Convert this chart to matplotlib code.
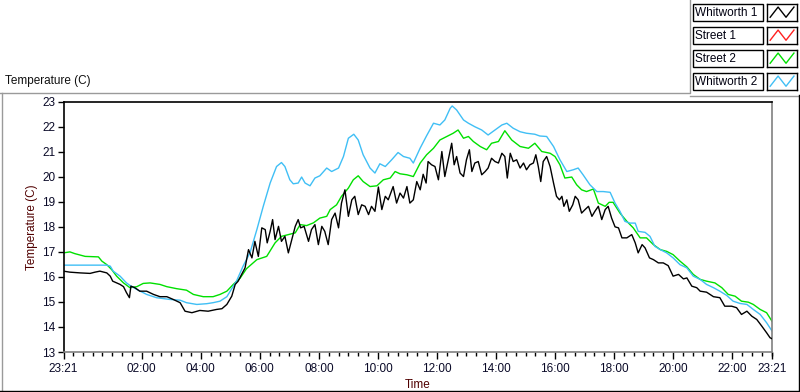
import matplotlib
matplotlib.use("Agg")
import matplotlib.pyplot as plt
from matplotlib.patches import Rectangle
from matplotlib.lines import Line2D

# ---------------- data (minutes since 23:21, temperature in C) ----------------
w1_t = [0, 13, 34, 54, 64, 74, 88, 95, 100, 108, 115, 122, 128, 134, 137, 145, 155, 169, 183, 196,
        210, 223, 237, 247, 261, 277, 294, 311, 322, 332, 342, 349, 355, 362, 369, 376, 383, 389, 396,
        403, 410, 414, 420, 425, 430, 437, 443, 450, 457, 464, 471, 477, 482, 489, 498, 504, 511, 518,
        525, 531, 538, 545, 552, 559, 565, 572, 579, 586, 592, 599, 606, 613, 620, 626, 633, 640, 647,
        654, 660, 670, 677, 684, 691, 698, 704, 711, 718, 725, 731, 737, 741, 748, 755, 762, 769, 775,
        782, 789, 794, 799, 806, 813, 819, 825, 830, 836, 843, 850, 857, 863, 870, 877, 884, 891, 897,
        902, 908, 914, 921, 928, 935, 941, 948, 955, 960, 965, 970, 975, 982, 989, 996, 1002, 1008,
        1013, 1017, 1023, 1028, 1035, 1040, 1046, 1053, 1060, 1067, 1074, 1080, 1087, 1094, 1101, 1107,
        1114, 1121, 1128, 1135, 1145, 1155, 1162, 1168, 1176, 1182, 1191, 1199, 1209, 1219, 1229, 1239,
        1250, 1260, 1267, 1277, 1287, 1294, 1307, 1321, 1334, 1344, 1358, 1368, 1378, 1389, 1399, 1409,
        1419, 1429, 1436, 1440]
w1_v = [16.23, 16.19, 16.16, 16.14, 16.19, 16.23, 16.16, 16.03, 15.83, 15.76, 15.70, 15.61, 15.37, 15.17,
        15.63, 15.57, 15.43, 15.43, 15.30, 15.21, 15.21, 15.10, 14.97, 14.63, 14.57, 14.66, 14.63, 14.70,
        14.73, 14.90, 15.23, 15.70, 15.83, 16.10, 16.36, 17.09, 16.76, 17.42, 16.82, 17.96, 17.89, 17.36,
        17.82, 18.29, 17.49, 18.02, 17.42, 17.62, 16.96, 17.49, 18.02, 18.29, 17.96, 18.02, 17.42, 17.89,
        18.09, 17.29, 18.02, 17.82, 17.29, 18.29, 18.55, 17.96, 18.95, 19.48, 18.42, 19.08, 19.22, 18.49,
        18.88, 18.82, 18.49, 18.82, 18.62, 19.59, 18.69, 19.22, 19.08, 19.61, 18.95, 19.35, 19.15, 19.61,
        18.95, 19.08, 19.81, 19.48, 20.10, 19.75, 20.61, 20.48, 20.41, 19.88, 21.01, 20.01, 20.68, 21.34,
        20.48, 20.81, 20.15, 20.01, 20.68, 21.08, 20.21, 20.55, 20.61, 20.08, 20.21, 20.35, 20.74, 20.61,
        20.55, 20.94, 20.81, 19.95, 20.94, 20.61, 20.68, 20.35, 20.55, 20.28, 20.48, 20.55, 20.88, 20.41,
        19.81, 20.61, 20.81, 20.41, 19.75, 19.22, 19.08, 19.22, 18.82, 19.08, 18.62, 18.88, 19.22, 19.08,
        18.55, 18.69, 18.82, 18.42, 18.62, 18.82, 18.29, 18.69, 18.82, 18.35, 18.00, 17.96, 17.56, 17.56,
        17.69, 17.36, 16.96, 17.29, 17.16, 16.76, 16.69, 16.56, 16.56, 16.45, 16.03, 16.10, 15.92, 15.96,
        15.63, 15.57, 15.43, 15.39, 15.21, 15.17, 14.83, 14.83, 14.77, 14.50, 14.63, 14.43, 14.30, 14.04,
        13.77, 13.57, 13.53]

s1_t = []
s1_v = []

s2_t = [0, 13, 23, 44, 71, 78, 88, 98, 108, 122, 135, 149, 162, 176, 196, 210, 230, 250, 264, 284, 304,
        318, 332, 345, 359, 372, 393, 413, 430, 443, 457, 471, 481, 494, 508, 521, 535, 542, 555, 565,
        579, 589, 599, 609, 623, 637, 650, 664, 674, 684, 698, 711, 725, 738, 752, 765, 779, 792, 802,
        813, 823, 833, 847, 860, 870, 884, 897, 911, 928, 945, 958, 972, 989, 999, 1009, 1019, 1033,
        1043, 1053, 1063, 1077, 1087, 1101, 1109, 1117, 1131, 1145, 1158, 1172, 1185, 1199, 1213, 1226,
        1239, 1253, 1267, 1280, 1294, 1307, 1324, 1338, 1351, 1365, 1378, 1392, 1402, 1416, 1429, 1440]
s2_v = [16.96, 17.00, 16.93, 16.82, 16.80, 16.63, 16.49, 16.29, 16.03, 15.76, 15.57, 15.61, 15.74, 15.76,
        15.70, 15.61, 15.53, 15.47, 15.30, 15.21, 15.21, 15.30, 15.43, 15.70, 15.95, 16.33, 16.69, 16.82,
        17.36, 17.62, 17.69, 17.76, 18.09, 18.05, 18.16, 18.35, 18.42, 18.69, 18.88, 19.22, 19.55, 19.88,
        20.04, 19.81, 19.61, 19.64, 19.88, 19.95, 20.21, 20.12, 20.08, 20.01, 20.55, 20.88, 21.14, 21.47,
        21.61, 21.74, 21.87, 21.54, 21.61, 21.41, 21.21, 21.08, 21.34, 21.41, 21.84, 21.47, 21.21, 21.14,
        21.34, 21.01, 20.94, 20.81, 20.48, 19.95, 19.99, 19.68, 19.48, 19.41, 19.51, 18.95, 18.82, 18.98,
        18.98, 18.55, 18.22, 17.96, 17.56, 17.56, 17.29, 17.09, 17.02, 16.89, 16.63, 16.40, 16.10, 15.90,
        15.83, 15.76, 15.57, 15.30, 15.23, 15.03, 14.99, 14.90, 14.70, 14.57, 14.23]

w2_t = [0, 88, 95, 101, 115, 128, 135, 149, 169, 189, 216, 237, 250, 271, 291, 304, 318, 332, 352, 365,
        379, 393, 406, 420, 433, 443, 450, 460, 467, 477, 484, 491, 501, 511, 521, 535, 545, 559, 569,
        579, 590, 599, 609, 623, 633, 643, 654, 667, 680, 691, 704, 711, 725, 738, 752, 765, 775, 786,
        790, 799, 813, 823, 836, 850, 863, 877, 891, 901, 914, 928, 941, 958, 968, 982, 996, 1009, 1023,
        1036, 1046, 1056, 1070, 1084, 1097, 1111, 1121, 1131, 1141, 1151, 1162, 1168, 1182, 1192, 1202,
        1213, 1226, 1239, 1253, 1267, 1280, 1294, 1307, 1321, 1334, 1348, 1361, 1375, 1389, 1402, 1416,
        1429, 1440]
w2_v = [16.47, 16.47, 16.43, 16.23, 16.03, 15.76, 15.66, 15.50, 15.30, 15.17, 15.10, 15.07, 14.97, 14.90,
        14.93, 14.97, 15.03, 15.21, 15.85, 16.43, 16.96, 17.89, 18.82, 19.75, 20.41, 20.57, 20.41, 19.88,
        19.72, 19.75, 19.99, 19.75, 19.64, 19.95, 20.04, 20.35, 20.21, 20.35, 20.81, 21.54, 21.70, 21.47,
        20.88, 20.35, 20.15, 20.52, 20.41, 20.68, 20.97, 20.81, 20.74, 20.55, 21.15, 21.64, 22.14, 22.07,
        22.27, 22.74, 22.83, 22.67, 22.27, 22.14, 22.00, 21.87, 21.67, 21.87, 22.07, 22.14, 21.94, 21.80,
        21.74, 21.70, 21.63, 21.61, 21.21, 20.68, 20.21, 20.28, 20.35, 20.08, 19.68, 19.41, 19.41, 19.38,
        18.95, 18.62, 18.22, 18.15, 18.15, 17.82, 17.78, 17.62, 17.22, 17.09, 16.96, 16.76, 16.49, 16.36,
        16.03, 15.90, 15.70, 15.57, 15.43, 15.26, 15.03, 14.94, 14.90, 14.70, 14.50, 14.17, 13.84]

series_names = ["Whitworth 1", "Street 1", "Street 2", "Whitworth 2"]
series_colors = ["#000000", "#FF2020", "#00E000", "#40BFF5"]

x_tick_pos = [0, 159, 279, 399, 519, 639, 759, 879, 999, 1119, 1239, 1359, 1440]
x_tick_labels = ["23:21", "02:00", "04:00", "06:00", "08:00", "10:00", "12:00",
                 "14:00", "16:00", "18:00", "20:00", "22:00", "23:21"]
y_ticks = list(range(13, 24))

# ---------------- figure ----------------
W, H = 800, 392
fig = plt.figure(figsize=(W / 100, H / 100), dpi=100)
fig.patch.set_facecolor("white")
FONT = "Liberation Sans"
FS = 8.5
tick_col = "#0a0a28"
lab_col = "#500000"


def px(x0, y0, w, h):
    """pixel box (top-left origin) -> figure fraction rect"""
    return [x0 / W, 1 - (y0 + h) / H, w / W, h / H]


ax_l, ax_r, ax_t, ax_b = 63.5, 772, 101.7, 352
ax = fig.add_axes(px(ax_l, ax_t, ax_r - ax_l, ax_b - ax_t))

series = [(w1_t, w1_v), (s1_t, s1_v), (s2_t, s2_v), (w2_t, w2_v)]
for (t, v), c, n in zip(series, series_colors, series_names):
    ax.plot(t, v, color=c, lw=1.0, label=n)
ax.lines[0].set_zorder(3)

ax.set_xlim(0, 1440)
ax.set_ylim(13, 23)
ax.set_yticks(y_ticks)
ax.set_yticklabels([str(v) for v in y_ticks], fontfamily=FONT, fontsize=FS, color=tick_col)
ax.set_xticks(x_tick_pos)
ax.set_xticklabels(x_tick_labels, fontfamily=FONT, fontsize=FS, color=tick_col)
ax.set_xticks([19 + 20 * k for k in range(72)], minor=True)
ax.tick_params(axis="y", direction="out", length=4, width=1, pad=2, color="#000000")
ax.tick_params(axis="x", which="major", direction="out", length=5, width=1, pad=3, color="#000000")
ax.tick_params(axis="x", which="minor", direction="out", length=3, width=1, color="#000000")
for s in ["left", "top"]:
    ax.spines[s].set_color("#000000")
    ax.spines[s].set_linewidth(1.2)
for s in ["right", "bottom"]:
    ax.spines[s].set_color("#808080")
    ax.spines[s].set_linewidth(1.2)

ax.set_ylabel("Temperature (C)", fontfamily=FONT, fontsize=FS, color=lab_col)
ax.set_xlabel("Time", fontfamily=FONT, fontsize=FS, color=lab_col)
ax.xaxis.label.set_va("center")
ax.yaxis.label.set_va("center")
ax.xaxis.set_label_coords(0.5, -(385 - ax_b) / (ax_b - ax_t))
ax.yaxis.set_label_coords(-(ax_l - 32) / (ax_r - ax_l), 0.5)

# chart label at top left
fig.text(5 / W, 1 - 81 / H, "Temperature (C)", fontfamily=FONT, fontsize=FS,
         color="#101010", va="center", ha="left")

# outer frame lines (pixel coords)
def fline(xs, ys, col, lw=1.0):
    fig.add_artist(Line2D([x / W for x in xs], [1 - y / H for y in ys],
                          color=col, lw=lw, transform=fig.transFigure))

fline([0, 690, 690], [93, 93, 0], "#9a9a9a")
fline([690, 798], [95.5, 95.5], "#9a9a9a")
fline([2, 2], [93, 390], "#9a9a9a")
fline([0, 799], [390.5, 390.5], "#000000")
fline([798.5, 798.5], [95, 391], "#000000")

# legend panel
row_tops = [4, 27, 50, 73]
for top, name, col in zip(row_tops, series_names, series_colors):
    fig.add_artist(Rectangle((692.5 / W, 1 - (top + 17) / H), 70 / W, 17 / H,
                             transform=fig.transFigure, facecolor="white",
                             edgecolor="#000000", lw=1.0))
    fig.text(695 / W, 1 - (top + 9) / H, name, fontfamily=FONT, fontsize=FS,
             color="#000010", va="center", ha="left")
    sax = fig.add_axes(px(766.5, top, 30.5, 17))
    sax.set_xlim(0, 1)
    sax.set_ylim(0, 1)
    sax.set_xticks([])
    sax.set_yticks([])
    for s in sax.spines.values():
        s.set_color("#000000")
        s.set_linewidth(1.0)
    sax.plot([0.12, 0.38, 0.64, 0.9], [0.22, 0.82, 0.22, 0.82], color=col, lw=1.0)

fig.savefig("out.png", dpi=100, facecolor="white")
